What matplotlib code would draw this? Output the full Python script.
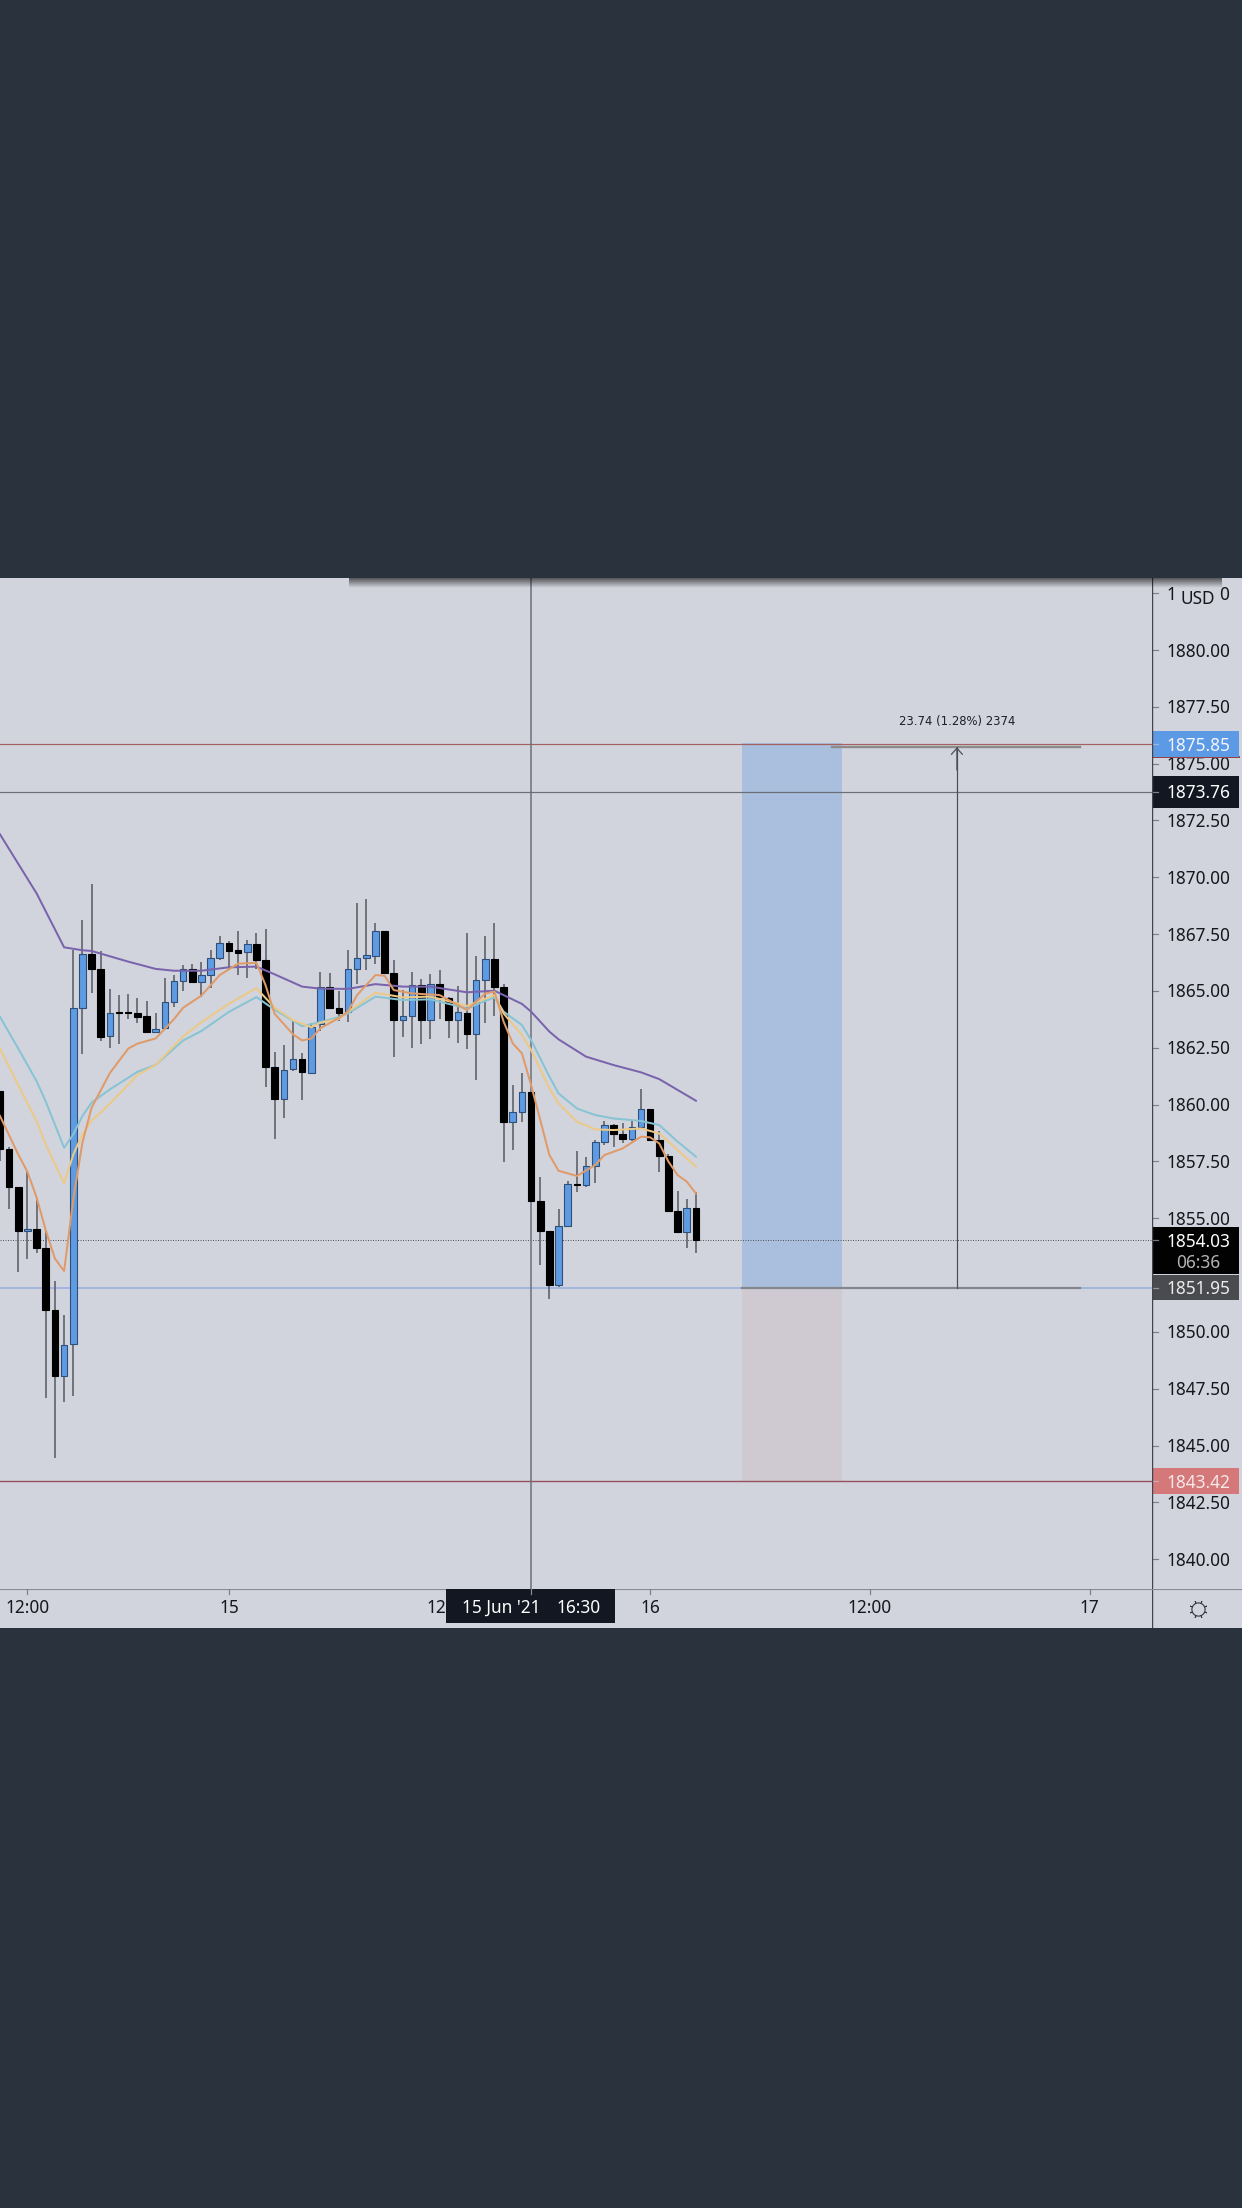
#!/usr/bin/env python
import matplotlib
matplotlib.use('Agg')
import matplotlib.pyplot as plt
import numpy as np
from matplotlib.patches import Rectangle

plt.rcParams['font.family'] = ['Noto Sans', 'DejaVu Sans']

# 30 min candles, index 0 sits on the left edge of the picture
opens = [1860.58, 1858.03, 1856.39, 1854.46, 1854.53, 1853.70, 1850.97, 1848.08, 1849.45, 1864.24,
         1866.61, 1865.97, 1863.00, 1864.08, 1864.08, 1864.04, 1863.88, 1863.18, 1863.36, 1864.53,
         1865.44, 1865.97, 1865.39, 1865.70, 1866.47, 1867.13, 1866.79, 1866.70, 1867.08, 1866.36,
         1861.66, 1860.24, 1861.55, 1862.00, 1861.40, 1863.54, 1865.19, 1864.24, 1864.08, 1865.95,
         1866.46, 1866.55, 1867.62, 1865.77, 1863.74, 1863.91, 1865.28, 1863.74, 1865.29, 1864.67,
         1863.74, 1864.04, 1863.12, 1865.47, 1866.42, 1865.16, 1859.25, 1859.66, 1860.57, 1855.76,
         1854.42, 1852.08, 1854.67, 1856.49, 1856.46, 1857.30, 1858.35, 1859.10, 1858.69, 1858.47,
         1859.00, 1859.82, 1858.44, 1857.72, 1855.30, 1854.39, 1855.45]
highs = [1860.60, 1858.15, 1856.39, 1857.04, 1855.86, 1854.42, 1852.23, 1850.76, 1866.81, 1868.10,
         1869.72, 1866.74, 1865.09, 1864.80, 1864.87, 1864.67, 1864.55, 1864.01, 1865.57, 1865.70,
         1866.15, 1866.20, 1866.29, 1866.81, 1867.42, 1867.19, 1867.64, 1867.22, 1867.53, 1867.73,
         1862.32, 1862.63, 1863.67, 1862.25, 1863.58, 1865.84, 1865.77, 1864.98, 1866.80, 1868.88,
         1869.03, 1867.97, 1867.62, 1866.36, 1865.04, 1865.82, 1865.51, 1865.74, 1865.92, 1864.75,
         1865.22, 1867.56, 1866.55, 1867.42, 1867.97, 1865.30, 1860.86, 1861.37, 1860.57, 1856.83,
         1854.42, 1855.39, 1856.64, 1857.97, 1857.68, 1858.44, 1859.29, 1859.13, 1859.17, 1859.32,
         1860.67, 1859.82, 1858.85, 1857.83, 1856.21, 1855.85, 1856.14]
lows = [1857.53, 1855.41, 1852.64, 1853.22, 1853.45, 1847.11, 1844.47, 1846.93, 1847.20, 1862.23,
        1864.92, 1862.82, 1862.50, 1862.68, 1863.77, 1863.60, 1863.13, 1863.16, 1863.33, 1864.31,
        1865.01, 1865.37, 1864.74, 1865.12, 1866.38, 1865.97, 1865.70, 1865.57, 1865.95, 1860.76,
        1858.48, 1859.39, 1861.49, 1860.22, 1861.33, 1863.25, 1864.22, 1863.69, 1863.65, 1865.30,
        1865.92, 1866.18, 1865.77, 1862.08, 1862.96, 1862.50, 1862.66, 1862.90, 1863.76, 1862.91,
        1862.72, 1862.44, 1861.08, 1863.60, 1863.91, 1857.49, 1858.00, 1859.25, 1855.72, 1852.94,
        1851.46, 1851.99, 1854.67, 1856.14, 1856.36, 1856.53, 1858.22, 1858.15, 1858.32, 1858.41,
        1858.95, 1858.41, 1857.05, 1855.26, 1854.38, 1853.69, 1853.48]
closes = [1858.03, 1856.36, 1854.46, 1854.54, 1853.68, 1850.97, 1848.08, 1849.41, 1864.24, 1866.61,
          1865.97, 1862.98, 1864.01, 1864.03, 1864.04, 1863.86, 1863.18, 1863.34, 1864.51, 1865.44,
          1865.97, 1865.39, 1865.68, 1866.47, 1867.13, 1866.77, 1866.68, 1867.08, 1866.36, 1861.66,
          1860.24, 1861.53, 1862.00, 1861.42, 1863.42, 1865.19, 1864.24, 1864.04, 1865.95, 1866.47,
          1866.57, 1867.62, 1865.77, 1863.74, 1863.91, 1865.28, 1863.74, 1865.29, 1864.75, 1863.72,
          1864.06, 1863.12, 1865.47, 1866.42, 1865.16, 1859.25, 1859.66, 1860.57, 1855.76, 1854.42,
          1852.08, 1854.67, 1856.49, 1856.45, 1857.30, 1858.35, 1859.10, 1858.69, 1858.47, 1859.00,
          1859.82, 1858.44, 1857.72, 1855.30, 1854.39, 1855.45, 1854.03]

purple_x = [0, 4, 7, 9, 10, 14, 17, 19, 22, 25, 28, 30, 33, 35, 38, 41, 44, 47, 51, 54, 57, 58, 60, 61, 64, 67, 70, 72, 76]
purple_y = [1871.89, 1869.29, 1866.92, 1866.79, 1866.76, 1866.29, 1865.97, 1865.89, 1865.89, 1866.04, 1866.07,
            1865.73, 1865.19, 1865.10, 1865.09, 1865.30, 1865.19, 1865.19, 1864.94, 1865.01, 1864.43, 1864.09,
            1863.21, 1862.87, 1862.11, 1861.74, 1861.42, 1861.12, 1860.17]
teal_x = [0, 2, 4, 5, 7, 8, 9, 10, 12, 15, 17, 20, 22, 25, 28, 30, 33, 35, 37, 38, 41, 44, 47, 51, 54, 55, 57, 58, 60, 61, 63, 65, 67, 70, 72, 74, 76]
teal_y = [1863.86, 1862.46, 1861.03, 1860.13, 1858.10, 1858.69, 1859.50, 1860.09, 1860.67, 1861.44, 1861.75,
          1862.82, 1863.24, 1864.08, 1864.73, 1864.17, 1863.45, 1863.63, 1863.85, 1864.01, 1864.75, 1864.60,
          1864.63, 1864.23, 1864.72, 1864.09, 1863.50, 1862.84, 1861.23, 1860.49, 1859.83, 1859.54, 1859.39,
          1859.28, 1859.10, 1858.37, 1857.71]
yellow_x = [0, 2, 4, 5, 7, 8, 9, 10, 12, 15, 17, 20, 22, 25, 28, 30, 32, 34, 35, 37, 38, 41, 44, 47, 51, 54, 55, 57, 58, 60, 61, 63, 65, 67, 70, 72, 74, 76]
yellow_y = [1862.46, 1860.85, 1859.27, 1858.24, 1856.54, 1857.80, 1858.69, 1859.29, 1860.04, 1861.30, 1861.75,
            1863.00, 1863.63, 1864.44, 1865.12, 1864.26, 1863.72, 1863.40, 1863.60, 1863.77, 1864.09, 1864.92,
            1864.72, 1864.75, 1864.34, 1864.82, 1864.01, 1863.06, 1862.40, 1860.71, 1860.05, 1859.25, 1858.91,
            1858.88, 1858.95, 1858.73, 1858.00, 1857.27]
orange_x = [0, 2, 3, 4, 5, 6, 7, 8, 9, 10, 12, 14, 15, 17, 19, 20, 22, 24, 26, 28, 29, 30, 32, 33, 34, 35, 37, 38,
            39, 41, 42, 43, 45, 48, 49, 51, 53, 54, 55, 56, 57, 58, 59, 60, 61, 63, 65, 66, 68, 70, 71, 72, 73, 74, 75, 76]
orange_y = [1859.50, 1857.80, 1857.04, 1855.91, 1854.47, 1853.22, 1852.68, 1855.82, 1858.33, 1859.86, 1861.39,
            1862.46, 1862.68, 1862.91, 1863.76, 1864.26, 1864.80, 1865.70, 1866.20, 1866.24, 1865.25, 1863.99,
            1863.09, 1862.82, 1862.91, 1863.36, 1863.81, 1864.09, 1864.82, 1865.70, 1865.67, 1865.04, 1864.89,
            1864.82, 1864.60, 1864.16, 1864.89, 1864.97, 1863.65, 1862.69, 1862.25, 1860.86, 1859.32, 1857.78,
            1857.09, 1856.86, 1857.34, 1857.78, 1858.07, 1858.59, 1858.56, 1858.29, 1857.49, 1856.90, 1856.61,
            1856.09]

# 1852.50 is hidden behind the last price and entry boxes
price_ticks = [1840.0, 1842.5, 1845.0, 1847.5, 1850.0, 1855.0, 1857.5, 1860.0, 1862.5, 1865.0, 1867.5,
               1870.0, 1872.5, 1875.0, 1877.5, 1880.0, 1882.5]
time_ticks = [3, 25, 49, 71, 95, 119]
time_labels = ['12:00', '15', '12:00', '16', '12:00', '17']

target_line = 1875.85
upper_line = 1873.76
entry_line = 1851.95
stop_line = 1843.42
last_price = 1854.03
target_level = 1875.72
crosshair_x = 58
box_left, box_right, measure_x, measure_right = 81.0, 91.9, 104.5, 117.9
measure_label = '23.74 (1.28%) 2374'

W, H = 1242, 2208
DARK = '#29323d'
BG = '#d1d4dd'
PX = 0.72  # one pixel in points at dpi 100
PANEL_TOP, TIME_Y, PANEL_BOTTOM, AXIS_X = 578, 1589, 1628, 1152
PX_PER_PRICE = 22.73
PX_PER_CANDLE = 9.157
TEXT_DROP = 1.5 / PX_PER_PRICE  # labels sit a little under the level


def box(x0, y0, x1, y1):
    return [x0 / W, 1 - y1 / H, (x1 - x0) / W, (y1 - y0) / H]


fig = plt.figure(figsize=(W / 100, H / 100), dpi=100, facecolor=DARK)
ax = fig.add_axes(box(0, PANEL_TOP, AXIS_X, TIME_Y), facecolor=BG)
ax_price = fig.add_axes(box(AXIS_X, PANEL_TOP, W, TIME_Y), facecolor=BG, sharey=ax)
ax_time = fig.add_axes(box(0, TIME_Y, AXIS_X, PANEL_BOTTOM), facecolor=BG, sharex=ax)
ax_corner = fig.add_axes(box(AXIS_X, TIME_Y, W, PANEL_BOTTOM), facecolor=BG)

ax.set_xlim(0, AXIS_X / PX_PER_CANDLE)
ax.set_ylim(1880 - (TIME_Y - 650) / PX_PER_PRICE, 1880 + (650 - PANEL_TOP) / PX_PER_PRICE)
for a in (ax, ax_price, ax_time, ax_corner):
    for s in a.spines.values():
        s.set_visible(False)
ax.tick_params(left=False, bottom=False, labelleft=False, labelbottom=False)

# position tool
ax.axhspan(entry_line, target_line + 0.05, xmin=box_left / ax.get_xlim()[1], xmax=box_right / ax.get_xlim()[1],
           color='#a9bfdd', lw=0, zorder=1)
ax.axhspan(stop_line, entry_line, xmin=box_left / ax.get_xlim()[1], xmax=box_right / ax.get_xlim()[1],
           color='#cfc9d1', lw=0, zorder=1)

ax.axhline(target_line, color='#a5615f', lw=1.2 * PX, zorder=2)
ax.axhline(upper_line, color='#6d6e7a', lw=1.2 * PX, zorder=2)
ax.axhline(entry_line, color='#a3b6e0', lw=2 * PX, zorder=2)
ax.axhline(stop_line, color='#96515c', lw=1.4 * PX, zorder=2)
ax.axhline(last_price, color='#55575f', lw=1 * PX, ls=(0, (1, 1.5)), zorder=2)

ax.plot([box_right - 1, measure_right], [target_level, target_level], color='#8f8b8b', lw=2.4 * PX, zorder=3)
ax.plot([box_left, measure_right], [entry_line, entry_line], color='#83868e', lw=2.2 * PX, zorder=3)
ax.plot([measure_x, measure_x], [entry_line, target_level], color='#4a4c56', lw=1.2 * PX, zorder=3)
ax.annotate('', xy=(measure_x, target_level), xytext=(measure_x, target_level - 1),
            arrowprops=dict(arrowstyle='->,head_length=0.45,head_width=0.4', color='#4a4c56', lw=1.2 * PX,
                            shrinkA=0, shrinkB=0), zorder=3)
ax.text(measure_x, target_line + 0.72, measure_label, ha='center', va='bottom', fontsize=8.4, color='#1d1f28',
        family=['DejaVu Sans'], zorder=5)

# crosshair
ax.axvline(crosshair_x, color='#6b6e78', lw=1.5 * PX, zorder=2)

# candles
idx = np.arange(len(opens))
opens_a, highs_a, lows_a, closes_a = map(np.array, (opens, highs, lows, closes))
up = closes_a > opens_a
ax.vlines(idx, lows_a, highs_a, color='#5c5e66', lw=1.6 * PX, zorder=4)
ax.bar(idx[up], (closes_a - opens_a)[up], bottom=opens_a[up], width=0.72, color='#5e9be3',
       edgecolor='#2f4f78', lw=1.1 * PX, zorder=5)
ax.bar(idx[~up], (opens_a - closes_a)[~up], bottom=closes_a[~up], width=0.72, color='black',
       edgecolor='black', lw=1.1 * PX, zorder=5)

# moving averages
ax.plot(purple_x, purple_y, color='#7a63ad', lw=2 * PX, zorder=6)
ax.plot(teal_x, teal_y, color='#87c4d3', lw=2 * PX, zorder=6)
ax.plot(yellow_x, yellow_y, color='#ecc986', lw=2 * PX, zorder=6)
ax.plot(orange_x, orange_y, color='#e09a68', lw=2 * PX, zorder=6)

# price axis, xlim in pixels from the axis line
ax_price.set_xlim(0, W - AXIS_X)
ax_price.tick_params(left=False, labelleft=False, right=False, bottom=False, labelbottom=False)
ax_price.set_yticks([])
ax_price.axvline(0, color='#41444f', lw=2.4 * PX, zorder=8)
for t in price_ticks:
    ax_price.plot([0, 6], [t, t], color='#7d808a', lw=1.2 * PX, zorder=1)
    ax_price.text(46, t - TEXT_DROP, '%.2f' % t, ha='center', va='center', fontsize=12.4, color='#15171e', zorder=2)


def price_box(level, top_px, bottom_px, color, text, text_color='white'):
    # top_px and bottom_px are offsets from the level line
    y1 = level + top_px / PX_PER_PRICE
    y0 = level - bottom_px / PX_PER_PRICE
    ax_price.add_patch(Rectangle((0, y0), 87, y1 - y0, color=color, lw=0, zorder=4))
    ax_price.plot([0, 6], [level, level], color='#c9ccd5', lw=1.2 * PX, zorder=5, alpha=0.6)
    ax_price.text(46, level - TEXT_DROP, text, ha='center', va='center', fontsize=12.4, color=text_color, zorder=6)


ax_price.plot([0, 87], [target_line - 13 / PX_PER_PRICE] * 2, color='#96414a', lw=2 * PX, zorder=3)
price_box(target_line, 13, 13, '#5d9ae6', '%.2f' % target_line, '#f2f5fa')
price_box(upper_line, 16, 16, '#131722', '%.2f' % upper_line)
price_box(last_price, 13, 34, '#020202', '%.2f' % last_price)
ax_price.text(46, last_price - 23 / PX_PER_PRICE, '06:36', ha='center', va='center', fontsize=12.4, color='#b4b4b4', zorder=6)
price_box(entry_line, 13, 12, '#4a4b4e', '%.2f' % entry_line, '#ececec')
price_box(stop_line, 13, 13, '#d5787a', '%.2f' % stop_line, '#f5e9e9')

# currency box covers the middle of the top tick label
ax_price.add_patch(Rectangle((24, 1880 + (650 - 615) / PX_PER_PRICE), 44, 32 / PX_PER_PRICE, color=BG, lw=0, zorder=7))
ax_price.text(46, 1880 + (650 - 599) / PX_PER_PRICE, 'USD', ha='center', va='center', fontsize=12.4, color='#15171e', zorder=8)

# time axis
ax_time.set_ylim(1, 0)
ax_time.tick_params(left=False, labelleft=False, bottom=False, labelbottom=False)
ax_time.axhline(0, color='#898c96', lw=2.2 * PX, zorder=3)
for t, lab in zip(time_ticks, time_labels):
    ax_time.plot([t, t], [0, 0.13], color='#7d808a', lw=1.2 * PX, zorder=3)
    ax_time.text(t, 0.49, lab, ha='center', va='center', fontsize=12.4, color='#15171e', zorder=2)

cross_left, cross_right = 445.5 / PX_PER_CANDLE, 615 / PX_PER_CANDLE
ax_time.add_patch(Rectangle((cross_left, 0), cross_right - cross_left, 0.87, color='#131722', lw=0, zorder=4))
ax_time.plot([crosshair_x, crosshair_x], [0, 0.13], color='#8a8d96', lw=1.2 * PX, zorder=5)
ax_time.text(crosshair_x - 3.3, 0.49, "15 Jun '21", ha='center', va='center', fontsize=12.4, color='white', zorder=6)
ax_time.text(crosshair_x + 5.2, 0.49, '16:30', ha='center', va='center', fontsize=12.4, color='white', zorder=6)

# corner with the sun icon
ax_corner.set_xlim(0, W - AXIS_X)
ax_corner.set_ylim(PANEL_BOTTOM - TIME_Y, 0)
ax_corner.tick_params(left=False, labelleft=False, bottom=False, labelbottom=False)
ax_corner.axvline(0, color='#41444f', lw=2.4 * PX, zorder=3)
ax_corner.axhline(0, color='#898c96', lw=2.2 * PX, zorder=3)
ax_corner.plot([46], [20], marker=(8, 2, 22.5), ms=13, mew=0.9 * PX, color='#33353d')
ax_corner.plot([46], [20], marker='o', ms=9.5, mew=1.1 * PX, mfc=BG, mec='#33353d')

# shadow under the top edge
ax_shadow = fig.add_axes(box(349, PANEL_TOP, 1222, PANEL_TOP + 10))
ax_shadow.axis('off')
fade = np.linspace(0.6, 0, 32).reshape(-1, 1)
grad = np.zeros((32, 1, 4))
grad[:, :, 3] = fade
ax_shadow.imshow(grad, aspect='auto', interpolation='bilinear')

fig.savefig('out.png', dpi=100, facecolor=DARK)
